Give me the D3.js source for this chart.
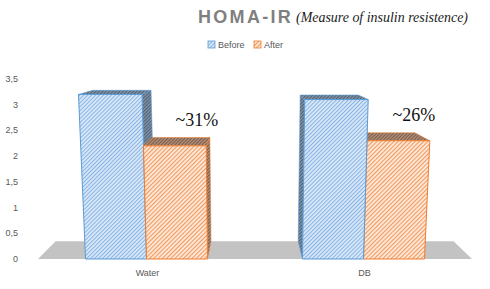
<!DOCTYPE html>
<html><head><meta charset="utf-8">
<script src="https://cdn.jsdelivr.net/npm/d3@7"></script>
<style>body{margin:0;background:#fff}svg{display:block}</style>
</head><body>
<script>
const categories = ["Water", "DB"];
const seriesNames = ["Before", "After"];
const beforeValues = [3.2, 3.1];
const afterValues = [2.2, 2.3];
const changeLabels = ["~31%", "~26%"];
const yTicks = [0, 0.5, 1, 1.5, 2, 2.5, 3, 3.5];

const W = 490, H = 289;
const svg = d3.select("body").append("svg").attr("width", W).attr("height", H);
const defs = svg.append("defs");

function stripe(id, bg, fg, size, sw) {
  const p = defs.append("pattern").attr("id", id).attr("patternUnits", "userSpaceOnUse")
    .attr("width", size).attr("height", size).attr("patternTransform", "rotate(45)");
  p.append("rect").attr("width", size).attr("height", size).attr("fill", bg);
  p.append("line").attr("x1", 0.5).attr("y1", 0).attr("x2", 0.5).attr("y2", size)
    .attr("stroke", fg).attr("stroke-width", sw);
}
stripe("bFront", "#d9e8f8", "#86b3e4", 2.8, 1.0);
stripe("oFront", "#fdebdf", "#f39a5c", 3.0, 1.3);
stripe("bDark", "#8193a8", "#4d5e70", 2.4, 1.0);
stripe("oDark", "#b0907b", "#7a5845", 2.4, 1.0);

const colors = {
  Before: { front: "url(#bFront)", dark: "url(#bDark)", stroke: "#5b9bd5" },
  After: { front: "url(#oFront)", dark: "url(#oDark)", stroke: "#ed7d31" }
};

const baseY = 259;
const y = d3.scaleLinear().domain([0, 3.5]).range([baseY, 79]);
const x0 = d3.scaleBand().domain(categories).range([38, 472]).paddingInner(0.438).paddingOuter(0.219);
const x1 = d3.scaleBand().domain(seriesNames).range([0, x0.bandwidth()]);

// simple perspective projection
const VX = 250, VY = 45, K = 0.083, C = 0.00026;
function P(X, h, z) {
  let sx = X + (X - VX) * h * C;
  let sy = baseY - h;
  sx = sx + (VX - sx) * K * z;
  sy = sy + (VY - sy) * K * z;
  return [sx, sy];
}
const poly = pts => "M" + pts.map(p => p.join(",")).join("L") + "Z";

// floor
const [fx0, fx1] = x0.range();
svg.append("path").attr("d", poly([P(fx0, 0, 0), P(fx1, 0, 0), P(fx1, 0, 1), P(fx0, 0, 1)]))
  .attr("fill", "#c3c3c3");

// bars
const bars = [];
categories.forEach((c, i) => {
  [beforeValues[i], afterValues[i]].forEach((v, j) => {
    const s = seriesNames[j];
    bars.push({ c, s, v, xl: x0(c) + x1(s), xr: x0(c) + x1(s) + x1.bandwidth(), h: baseY - y(v) });
  });
});
bars.forEach(b => b.dist = Math.abs((b.xl + b.xr) / 2 - VX));
bars.sort((a, b) => b.dist - a.dist);

const g = svg.append("g");
bars.forEach(b => {
  const col = colors[b.s];
  const left = (b.xl + b.xr) / 2 > VX; // bar right of center shows its left side
  const sideX = left ? b.xl : b.xr;
  g.append("path").attr("d", poly([P(sideX, 0, 0), P(sideX, b.h, 0), P(sideX, b.h, 1), P(sideX, 0, 1)]))
    .attr("fill", col.dark).attr("stroke", col.stroke).attr("stroke-width", 0.8).attr("stroke-opacity", 0.7);
  g.append("path").attr("d", poly([P(b.xl, b.h, 0), P(b.xr, b.h, 0), P(b.xr, b.h, 1), P(b.xl, b.h, 1)]))
    .attr("fill", col.dark).attr("stroke", col.stroke).attr("stroke-width", 0.8).attr("stroke-opacity", 0.7);
  g.append("path").attr("d", poly([P(b.xl, 0, 0), P(b.xr, 0, 0), P(b.xr, b.h, 0), P(b.xl, b.h, 0)]))
    .attr("fill", col.front).attr("stroke", col.stroke).attr("stroke-width", 1);
});

// y tick labels
const fmt = d3.formatLocale({ decimal: ",", thousands: ".", grouping: [3], currency: ["", ""] }).format("~g");
svg.append("g").selectAll("text").data(yTicks).join("text")
  .attr("x", 18).attr("y", d => y(d) + 3).attr("text-anchor", "end")
  .attr("font-family", "Liberation Sans, Arial, sans-serif").attr("font-size", 9).attr("fill", "#595959")
  .text(d => fmt(d));

// x labels
svg.append("g").selectAll("text").data(categories).join("text")
  .attr("x", d => x0(d) + x0.bandwidth() / 2 + 1).attr("y", 276).attr("text-anchor", "middle")
  .attr("font-family", "Liberation Sans, Arial, sans-serif").attr("font-size", 9).attr("fill", "#595959")
  .text(d => d);

// change annotations
svg.append("g").selectAll("text").data(categories).join("text")
  .attr("x", (d, i) => x0(d) + x1("After") + x1.bandwidth() / 2 + 20)
  .attr("y", (d, i) => y(afterValues[i]) - 20)
  .attr("text-anchor", "middle")
  .attr("font-family", "Liberation Serif, Times New Roman, serif").attr("font-size", 18).attr("fill", "#111")
  .text((d, i) => changeLabels[i]);

// title
svg.append("text").attr("x", 198).attr("y", 23).attr("fill", "#7f7f7f")
  .attr("font-family", "Liberation Sans, Arial, sans-serif")
  .attr("font-weight", "bold").attr("font-size", 18).attr("letter-spacing", 2.3).text("HOMA-IR");
svg.append("text").attr("x", 296).attr("y", 22).attr("fill", "#1a1a1a")
  .attr("font-family", "Liberation Serif, serif").attr("font-style", "italic").attr("font-size", 14)
  .attr("textLength", 172).attr("lengthAdjust", "spacingAndGlyphs")
  .text("(Measure of insulin resistence)");

// legend
const leg = svg.append("g").selectAll("g").data(seriesNames).join("g")
  .attr("transform", (d, i) => `translate(${i === 0 ? 208 : 254},41)`);
leg.append("rect").attr("width", 7).attr("height", 7)
  .attr("fill", d => colors[d].front).attr("stroke", d => colors[d].stroke).attr("stroke-width", 0.8);
leg.append("text").attr("x", 10).attr("y", 7)
  .attr("font-family", "Liberation Sans, Arial, sans-serif").attr("font-size", 9).attr("fill", "#595959")
  .text(d => d);
</script>
</body></html>
